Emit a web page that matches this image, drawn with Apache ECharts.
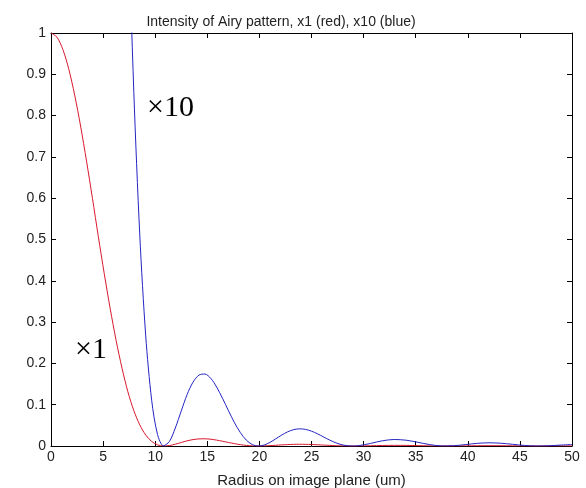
<!DOCTYPE html>
<html>
<head>
<meta charset="utf-8">
<script src="https://cdn.jsdelivr.net/npm/echarts@6/dist/echarts.min.js"></script>
<style>
html,body{margin:0;padding:0;background:#fff;}
#chart{width:586px;height:488px;}
</style>
</head>
<body>
<div id="chart"></div>
<script>
// Radius on image plane (um)
var radii = [0, 0.57, 1.14, 1.70, 2.27, 2.84, 3.41, 3.98, 4.54, 5.11, 5.68, 6.25, 6.82, 7.38, 7.95, 8.52, 9.09, 9.66, 10.22, 10.79,
  11.36, 11.93, 12.50, 13.06, 13.63, 14.20, 14.77, 15.34, 15.90, 16.47, 17.04, 17.61, 18.18, 18.74, 19.31, 19.88,
  20.45, 21.02, 21.58, 22.15, 22.72, 23.29, 23.86, 24.42, 24.99, 25.56, 26.13, 26.70, 27.26, 27.83, 28.40, 28.97,
  29.54, 30.67, 31.81, 32.94, 34.08, 35.22, 36.35, 37.49, 38.62, 39.76, 40.90, 42.03, 43.17, 44.30, 45.44, 46.58, 47.71, 48.85, 50.0];
// Intensity x1 (red)
var intensityX1 = [1, 0.990, 0.960, 0.9133, 0.850, 0.7748, 0.6897, 0.5993, 0.5075, 0.4175, 0.3326, 0.2555, 0.1879, 0.1312, 0.0856, 0.0511, 0.02667, 0.01111, 0.002815, 0.000045,
  0.001089, 0.004356, 0.008497, 0.012448, 0.015469, 0.017171, 0.017424, 0.016356, 0.014255, 0.011501, 0.008507, 0.005644, 0.003221, 0.001435, 0.000368, 0.000002,
  0.000227, 0.000877, 0.001755, 0.002667, 0.003440, 0.003960, 0.004157, 0.004025, 0.003603, 0.002972, 0.002234, 0.001493, 0.000845, 0.000359, 0.000076, 0.000002,
  0.000081, 0.000627, 0.001267, 0.001576, 0.001404, 0.000890, 0.000335, 0.000025, 0.000061, 0.000338, 0.000641, 0.000774, 0.000671, 0.000407, 0.000139, 0.000005, 0.000049, 0.000212, 0.000373];
// Intensity x10 (blue)
var intensityX10 = [10, 9.90, 9.60, 9.133, 8.50, 7.748, 6.897, 5.993, 5.075, 4.175, 3.326, 2.555, 1.879, 1.312, 0.856, 0.511, 0.2667, 0.1111, 0.02815, 0.00045,
  0.01089, 0.04356, 0.08497, 0.12448, 0.15469, 0.17171, 0.17424, 0.16356, 0.14255, 0.11501, 0.08507, 0.05644, 0.03221, 0.01435, 0.00368, 0.00002,
  0.00227, 0.00877, 0.01755, 0.02667, 0.03440, 0.03960, 0.04157, 0.04025, 0.03603, 0.02972, 0.02234, 0.01493, 0.00845, 0.00359, 0.00076, 0.00002,
  0.00081, 0.00627, 0.01267, 0.01576, 0.01404, 0.00890, 0.00335, 0.00025, 0.00061, 0.00338, 0.00641, 0.00774, 0.00671, 0.00407, 0.00139, 0.00005, 0.00049, 0.00212, 0.00373];

var titleText = 'Intensity of Airy pattern, x1 (red), x10 (blue)';
var xLabel = 'Radius on image plane (um)';

function pairs(xs, ys) {
  var out = [];
  for (var i = 0; i < xs.length; i++) out.push([xs[i], ys[i]]);
  return out;
}

var font = 'Liberation Sans, Arial, sans-serif';
var serif = 'Liberation Serif, Times New Roman, serif';
var axisCommon = {
  axisLine: {show: true, onZero: false, lineStyle: {color: '#000', width: 1}},
  axisTick: {show: true, inside: true, length: 5, lineStyle: {color: '#000'}},
  splitLine: {show: false}
};

var chart = echarts.init(document.getElementById('chart'), null, {renderer: 'canvas'});
chart.setOption({
  backgroundColor: '#fff',
  animation: false,
  title: {
    text: titleText,
    left: 276, top: 10, textAlign: 'center',
    textStyle: {fontFamily: font, fontSize: 14, fontWeight: 'normal', color: '#222'}
  },
  grid: {left: 51, right: 14, top: 33, bottom: 42, containLabel: false, outerBoundsMode: 'none'},
  xAxis: [
    Object.assign({
      type: 'value', min: 0, max: 50, interval: 5, position: 'bottom',
      name: xLabel, nameLocation: 'middle', nameGap: 27,
      nameTextStyle: {fontFamily: font, fontSize: 15, color: '#222'},
      axisLabel: {fontFamily: font, fontSize: 14, color: '#222', margin: 4}
    }, axisCommon),
    Object.assign({
      type: 'value', min: 0, max: 50, interval: 5, position: 'top',
      axisLabel: {show: false}
    }, axisCommon)
  ],
  yAxis: [
    Object.assign({
      type: 'value', min: 0, max: 1, interval: 0.1, position: 'left',
      axisLabel: {fontFamily: font, fontSize: 14, color: '#222', margin: 5,
        formatter: function (v) { return +v.toFixed(1) + ''; }}
    }, axisCommon),
    Object.assign({
      type: 'value', min: 0, max: 1, interval: 0.1, position: 'right',
      axisLabel: {show: false}
    }, axisCommon)
  ],
  series: [
    {
      type: 'line', name: 'x1', data: pairs(radii, intensityX1),
      xAxisIndex: 0, yAxisIndex: 0, showSymbol: false, smooth: 0.3, clip: true,
      lineStyle: {color: '#d8182c', width: 1}
    },
    {
      type: 'line', name: 'x10', data: pairs(radii, intensityX10),
      xAxisIndex: 0, yAxisIndex: 0, showSymbol: false, smooth: 0.3, clip: true,
      lineStyle: {color: '#2424c4', width: 1}
    }
  ],
  graphic: [
    {type: 'text', left: 147, top: 93,
      style: {text: '\u00d710', fontFamily: serif, fontSize: 30, fill: '#000'}},
    {type: 'text', left: 75, top: 335,
      style: {text: '\u00d71', fontFamily: serif, fontSize: 30, fill: '#000'}}
  ]
});
</script>
</body>
</html>
